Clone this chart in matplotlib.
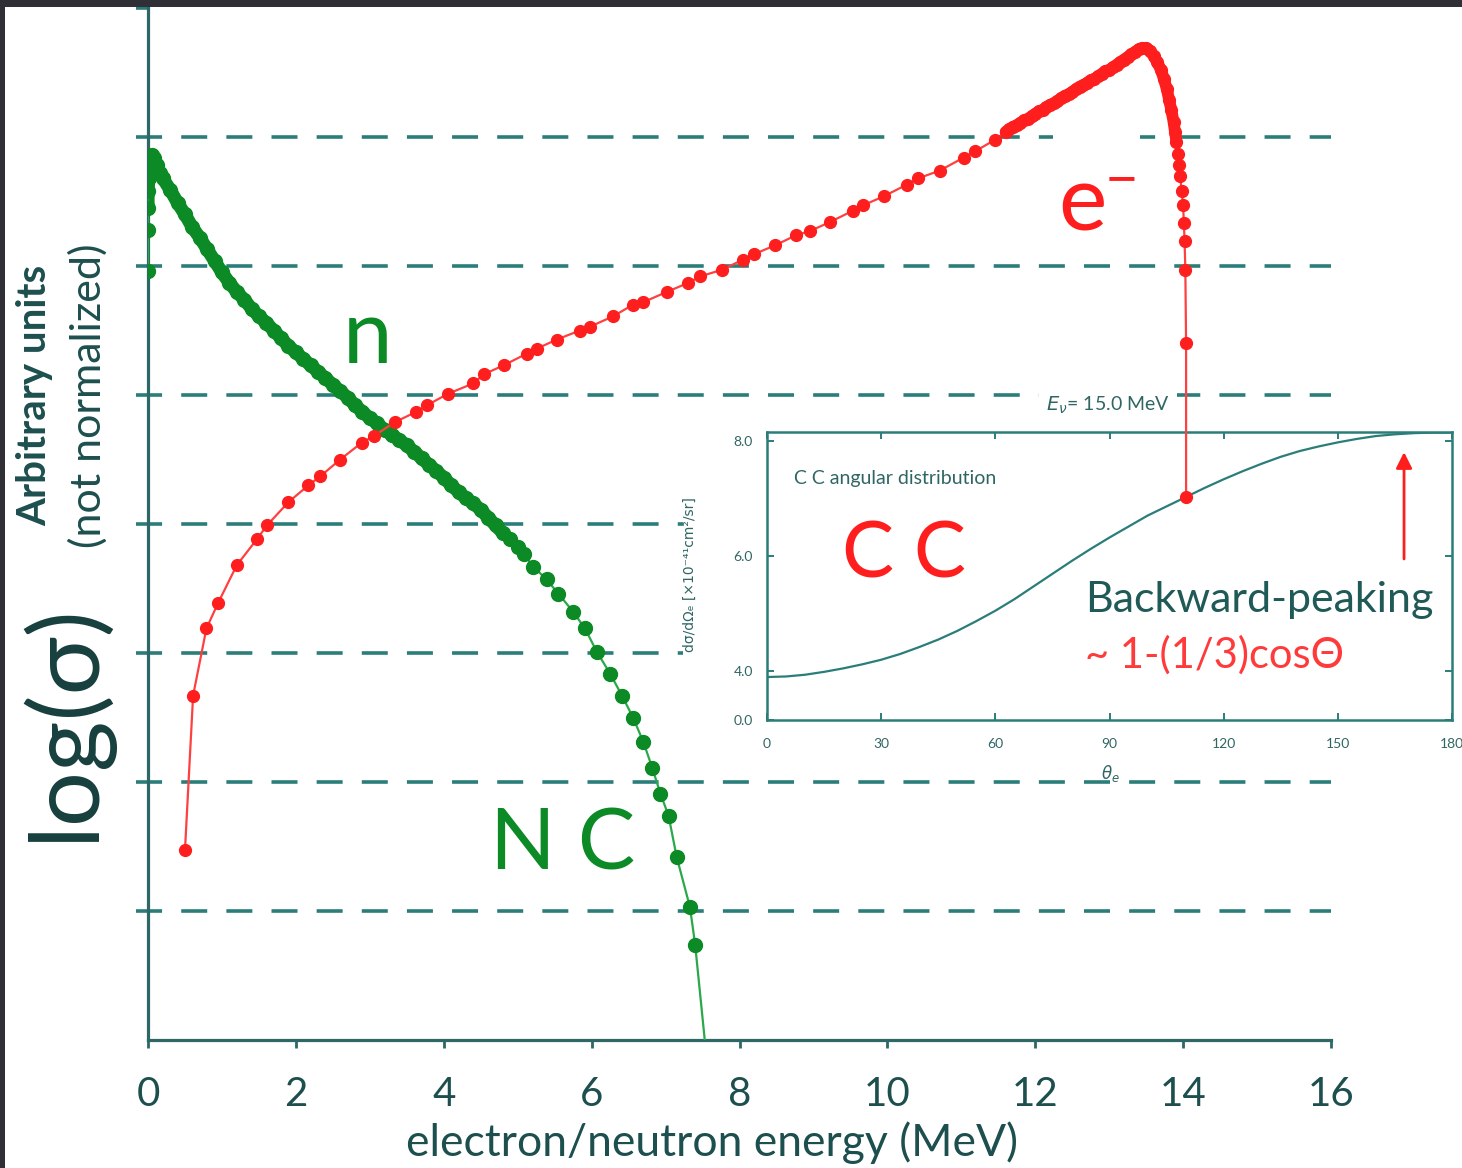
import matplotlib
matplotlib.use("Agg")
import matplotlib.pyplot as plt
from matplotlib.patches import Rectangle

plt.rcParams['font.family'] = ['Lato', 'DejaVu Sans']
plt.rcParams['mathtext.fontset'] = 'dejavusans'

# ---------------- data ----------------
# electron (CC) spectrum, log scale in arbitrary units
e_energy = [0.50, 0.61, 0.79, 0.95, 1.20, 1.47, 1.61, 1.90, 2.17, 2.33, 2.60, 2.89,
            3.05, 3.34, 3.63, 3.77, 4.06, 4.40, 4.54, 4.81, 5.12, 5.26, 5.53, 5.84,
            5.98, 6.29, 6.56, 6.70, 7.02, 7.31, 7.47, 7.76, 8.05, 8.19, 8.48, 8.77,
            8.95, 9.22, 9.54, 9.67, 9.95, 10.26, 10.42, 10.71, 11.03, 11.19, 11.46,
            11.60, 11.65, 11.70, 11.75, 11.80, 11.85, 11.90, 11.95, 12.00, 12.05,
            12.10, 12.15, 12.20, 12.25, 12.30, 12.35, 12.40, 12.45, 12.50, 12.55,
            12.60, 12.65, 12.70, 12.75, 12.80, 12.85, 12.90, 12.95, 13.00, 13.05,
            13.10, 13.15, 13.20, 13.25, 13.30, 13.35, 13.40, 13.45, 13.50, 13.55,
            13.60, 13.65, 13.70, 13.74, 13.78, 13.81, 13.84, 13.87, 13.89, 13.91,
            13.93, 13.95, 13.96, 13.98, 14.00, 14.01, 14.02, 14.03, 14.04, 14.04]
e_sigma = [1.47, 2.67, 3.19, 3.39, 3.68, 3.88, 3.99, 4.17, 4.30, 4.37, 4.50, 4.63,
           4.68, 4.79, 4.87, 4.92, 5.01, 5.09, 5.16, 5.23, 5.32, 5.36, 5.43, 5.50,
           5.53, 5.61, 5.70, 5.72, 5.80, 5.87, 5.92, 5.97, 6.05, 6.09, 6.16, 6.24,
           6.27, 6.34, 6.43, 6.47, 6.54, 6.63, 6.68, 6.74, 6.84, 6.89, 6.98,
           7.04, 7.06, 7.08, 7.09, 7.11, 7.13, 7.14, 7.16, 7.18, 7.20,
           7.21, 7.23, 7.25, 7.26, 7.28, 7.30, 7.32, 7.33, 7.35, 7.37,
           7.39, 7.40, 7.42, 7.44, 7.45, 7.47, 7.49, 7.51, 7.52, 7.54,
           7.56, 7.58, 7.60, 7.62, 7.64, 7.66, 7.68, 7.69, 7.69, 7.67,
           7.63, 7.58, 7.52, 7.45, 7.37, 7.29, 7.21, 7.12, 7.04, 6.96,
           6.87, 6.78, 6.70, 6.58, 6.47, 6.33, 6.19, 5.97, 5.40, 4.21]
e_dense_from, e_dense_to = 47, 97      # index range where the markers merge into a band

# neutron (NC) spectrum
n_energy = [0.00, 0.00, 0.00, 0.00, 0.01, 0.02, 0.03, 0.05, 0.08, 0.12, 0.16,
            0.20, 0.30, 0.40, 0.50, 0.60, 0.70, 0.80, 0.90, 1.00, 1.10, 1.20,
            1.30, 1.40, 1.50, 1.60, 1.70, 1.80, 1.90, 2.00, 2.10, 2.20, 2.30,
            2.40, 2.50, 2.60, 2.70, 2.80, 2.90, 3.00, 3.10, 3.20, 3.30, 3.40,
            3.50, 3.60, 3.70, 3.80, 3.90, 4.00, 4.10, 4.20, 4.30, 4.40, 4.50,
            4.60, 4.70, 4.80, 4.90, 5.00, 5.08, 5.21, 5.39, 5.55, 5.75, 5.91,
            6.07, 6.25, 6.41, 6.56, 6.70, 6.82, 6.93, 7.04, 7.15, 7.33, 7.40, 7.53]
n_sigma = [5.96, 6.28, 6.45, 6.58, 6.68, 6.77, 6.84, 6.86, 6.84, 6.78, 6.72,
           6.68, 6.59, 6.49, 6.40, 6.30, 6.22, 6.13, 6.04, 5.95, 5.87, 5.80,
           5.74, 5.67, 5.61, 5.56, 5.50, 5.44, 5.38, 5.33, 5.28, 5.23, 5.18,
           5.13, 5.08, 5.03, 4.98, 4.92, 4.87, 4.82, 4.78, 4.73, 4.69, 4.65,
           4.61, 4.56, 4.51, 4.46, 4.41, 4.36, 4.30, 4.25, 4.20, 4.16, 4.11,
           4.05, 3.99, 3.93, 3.88, 3.82, 3.77, 3.67, 3.57, 3.46, 3.32, 3.19,
           3.01, 2.84, 2.67, 2.50, 2.31, 2.11, 1.91, 1.74, 1.42, 1.03, 0.74, 0.00]
n_dense_from, n_dense_to = 2, 58

grid_levels = [1, 2, 3, 4, 5, 6, 7]
y_tick_levels = [1, 2, 3, 4, 5, 6, 7, 8]
x_ticks = [0, 2, 4, 6, 8, 10, 12, 14, 16]

# CC angular distribution at E_nu = 15 MeV
theta = [0, 5, 10, 15, 20, 25, 30, 35, 40, 45, 50, 55, 60, 65, 70, 75, 80, 85, 90,
         95, 100, 105, 110, 115, 120, 125, 130, 135, 140, 145, 150, 155, 160, 165,
         170, 175, 180]
dsigma = [3.90, 3.91, 3.94, 3.99, 4.05, 4.12, 4.20, 4.30, 4.42, 4.55, 4.70, 4.87,
          5.05, 5.25, 5.47, 5.69, 5.91, 6.12, 6.32, 6.51, 6.70, 6.86, 7.02, 7.18,
          7.33, 7.47, 7.60, 7.72, 7.82, 7.90, 7.97, 8.03, 8.08, 8.11, 8.13, 8.14, 8.14]
theta_ticks = [0, 30, 60, 90, 120, 150, 180]
inset_ytick_labels = ['0.0', '4.0', '6.0', '8.0']

# ---------------- styling ----------------
W, H = 1462, 1168
fig = plt.figure(figsize=(W / 100, H / 100), dpi=100)
fig.patch.set_facecolor('white')


def fx(px):
    return px / W


def fy(py):
    return 1 - py / H


TEAL = '#2b7d7a'
AXIS = '#2d6867'
INK = '#1c4f4d'
RED = '#ff1e1e'
RED_LINE = '#ff4040'
GREEN = '#0b8a25'
GREEN_LINE = '#2aa84a'

rect = [fx(148), fy(1040), fx(1331) - fx(148), fy(8) - fy(1040)]

# main axes: frame, ticks and dashed reference levels
ax = fig.add_axes(rect, zorder=0)
ax.set_xlim(0, 16)
ax.set_ylim(0, 8)
for s in ('top', 'right'):
    ax.spines[s].set_visible(False)
for s in ('left', 'bottom'):
    ax.spines[s].set_color(AXIS)
    ax.spines[s].set_linewidth(2.3)
ax.set_xticks(x_ticks)
ax.set_xticklabels([str(t) for t in x_ticks])
ax.tick_params(axis='x', direction='out', length=6, width=2, color=AXIS,
               labelsize=29, labelcolor=INK, pad=20)
ax.set_yticks(y_tick_levels)
ax.set_yticklabels([])
ax.tick_params(axis='y', direction='out', length=8.5, width=2.6, color=TEAL)
lw_dash = 2.6
ax.hlines(grid_levels, 0, 16.05, colors=TEAL, linewidth=lw_dash,
          linestyles=[(3.3, (7.2, 5.3))], zorder=1)
ax.add_patch(Rectangle((12.24, 6.9), 1.18, 0.2, facecolor='white',
                       edgecolor='none', zorder=2))
fig.text(fx(712), fy(1143), 'electron/neutron energy (MeV)', fontsize=32,
         color=INK, ha='center', va='center')

# white backing for the inset block
fig.add_artist(Rectangle((fx(683), fy(765)), fx(1462) - fx(683), fy(415) - fy(765),
                         transform=fig.transFigure, facecolor='white',
                         edgecolor='none', zorder=2))

# inset: angular distribution
axin = fig.add_axes([fx(767), fy(720), fx(1452) - fx(767), fy(432) - fy(720)], zorder=3)
ybot = 3.155
axin.set_xlim(0, 180)
axin.set_ylim(ybot, 8.15)
axin.plot(theta, dsigma, color=TEAL, lw=1.6)
for s in axin.spines.values():
    s.set_color(TEAL)
    s.set_linewidth(1.8)
axin.set_xticks(theta_ticks)
axin.set_xticklabels([str(t) for t in theta_ticks])
axin.set_yticks([ybot, 4, 6, 8])
axin.set_yticklabels(inset_ytick_labels)
axin.tick_params(direction='in', top=True, right=True, length=5, width=1.4,
                 color=TEAL, labelsize=10, labelcolor='#2f6664')
axin.tick_params(axis='x', pad=13)
axin.tick_params(axis='y', pad=10)
axin.text(0.04, 0.84, 'C C angular distribution', transform=axin.transAxes,
          fontsize=14, color='#2f6664', va='center', ha='left')
axin.text(0.11, 0.57, 'C C', transform=axin.transAxes, fontsize=56, color=RED,
          va='center', ha='left')
axin.text(0.464, 0.415, 'Backward-peaking', transform=axin.transAxes, fontsize=31,
          color='#1f5a57', va='center', ha='left')
axin.text(0.464, 0.225, '~ 1-(1/3)cosΘ', transform=axin.transAxes, fontsize=30,
          color='#ff3a3a', va='center', ha='left')
axin.annotate('', xy=(167.4, 7.85), xytext=(167.4, 5.9),
              arrowprops=dict(arrowstyle='-|>', color=RED, lw=2, mutation_scale=24))

fig.text(fx(690), fy(575), 'dσ/dΩₑ [×10⁻⁴¹cm²/sr]',
         rotation=90, fontsize=10, color='#2f6664', ha='center', va='center',
         zorder=4, family=['DejaVu Sans'])
fig.text(fx(1110), fy(773), r'$\theta_e$', fontsize=12, color='#2f6664',
         ha='center', va='center', zorder=4)
fig.text(fx(1108), fy(405), r'$E_\nu$= 15.0 MeV', fontsize=14, color='#2f6664',
         ha='center', va='center', zorder=4,
         bbox=dict(facecolor='white', edgecolor='none', pad=5))

# spectra drawn on a transparent overlay so they sit above the inset
ax_top = fig.add_axes(rect, zorder=5)
ax_top.set_xlim(0, 16)
ax_top.set_ylim(0, 8)
ax_top.axis('off')
ax_top.patch.set_visible(False)
# densely sampled stretches merge into a solid band
ax_top.plot(n_energy[n_dense_from:n_dense_to], n_sigma[n_dense_from:n_dense_to],
            color=GREEN, lw=9.5, solid_capstyle='round', solid_joinstyle='round')
ax_top.plot(n_energy, n_sigma, color=GREEN_LINE, lw=1.6, marker='o', ms=10,
            mfc=GREEN, mec=GREEN, markevery=slice(0, len(n_energy) - 1))
ax_top.plot(e_energy[e_dense_from:e_dense_to], e_sigma[e_dense_from:e_dense_to],
            color=RED, lw=8.5, solid_capstyle='round', solid_joinstyle='round')
ax_top.plot(e_energy, e_sigma, color=RED_LINE, lw=1.6, marker='o', ms=8.5,
            mfc=RED, mec=RED)

# labels
fig.text(fx(368), fy(338), 'n', fontsize=64, color=GREEN, ha='center', va='center')
fig.text(fx(563), fy(846), 'N C', fontsize=62, color=GREEN, ha='center', va='center')
fig.text(fx(1082), fy(205), 'e', fontsize=66, color=RED, ha='center', va='center')
fig.text(fx(1122), fy(181), '−', fontsize=42, color=RED, ha='center', va='center')

fig.text(fx(64), fy(722), 'log(σ)', rotation=90, fontsize=70, color='#173f3d',
         ha='center', va='center')
fig.text(fx(35), fy(395), 'Arbitrary units', rotation=90, fontsize=29,
         fontweight='bold', color=INK, ha='center', va='center')
fig.text(fx(88), fy(396), '(not normalized)', rotation=90, fontsize=31,
         color=INK, ha='center', va='center')

# dark outer border on top and left
fig.add_artist(Rectangle((0, fy(7)), 1, 7 / H, transform=fig.transFigure,
                         facecolor='#302f35', edgecolor='none', zorder=10))
fig.add_artist(Rectangle((0, 0), 5 / W, 1, transform=fig.transFigure,
                         facecolor='#302f35', edgecolor='none', zorder=10))

fig.savefig('out.png', dpi=100, facecolor='white')
